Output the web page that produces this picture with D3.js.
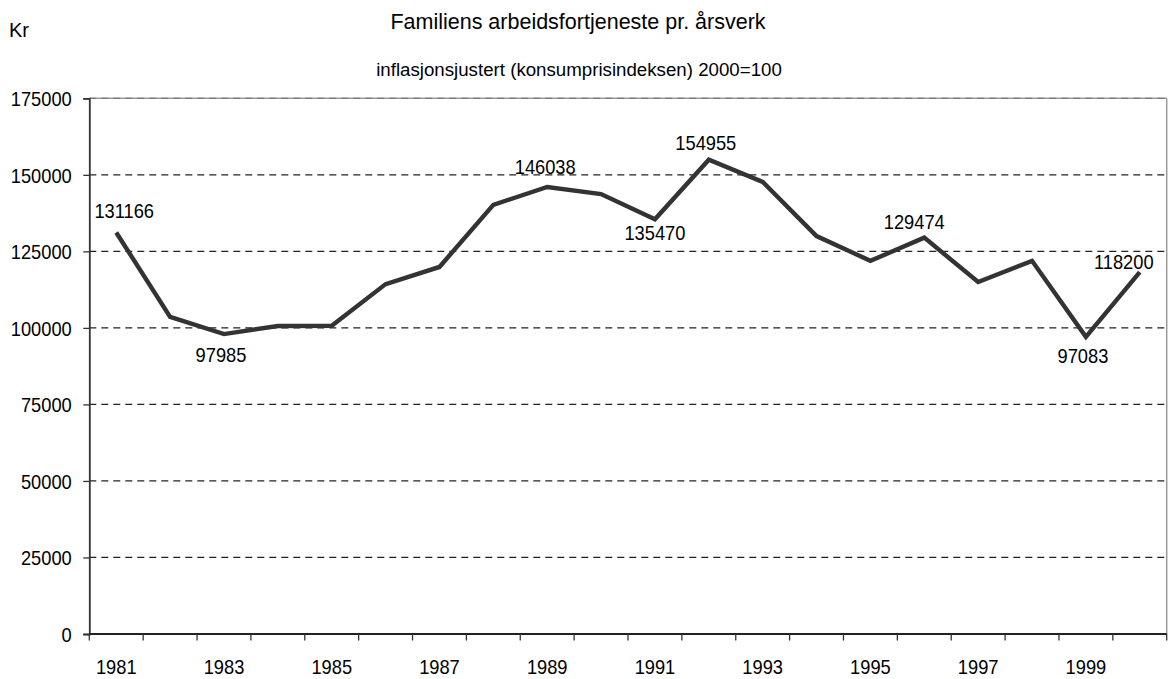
<!DOCTYPE html>
<html>
<head>
<meta charset="utf-8">
<script src="https://cdn.jsdelivr.net/npm/d3@7"></script>
<style>
  html, body { margin: 0; padding: 0; background: #fff; }
  svg { display: block; font-family: "Liberation Sans", Arial, sans-serif; }
</style>
</head>
<body>
<svg id="chart" width="1170" height="679"></svg>
<script>
const years = ["1981","1982","1983","1984","1985","1986","1987","1988","1989","1990",
               "1991","1992","1993","1994","1995","1996","1997","1998","1999","2000"];
const earnings = [131166, 103600, 97985, 100600, 100700, 114300, 119900, 140200, 146038, 143700,
                  135470, 154955, 147700, 130000, 121900, 129474, 115000, 121900, 97083, 118200];
const yTicks = [0, 25000, 50000, 75000, 100000, 125000, 150000, 175000];
const xTickLabels = ["1981","1983","1985","1987","1989","1991","1993","1995","1997","1999"];
// labelled points: year, horizontal nudge, vertical lift
const labelYears = ["1981","1983","1989","1991","1992","1996","1999","2000"];
const labelNudge = [8, -3, -2, 0, -3, -10, -3, -16];
const labelLift  = [14, -28, 13, -21, 10, 9, -26, 3];

const title = "Familiens arbeidsfortjeneste pr. årsverk";
const subtitle = "inflasjonsjustert (konsumprisindeksen) 2000=100";
const unitLabel = "Kr";

const svg = d3.select("#chart");
const pLeft = 89.3, pRight = 1166.7, pTop = 98.3, pBottom = 634;

const x = d3.scaleBand().domain(years).range([pLeft, pRight]).padding(0);
const y = d3.scaleLinear().domain([0, 175000]).range([pBottom, pTop]);
const cx = d => x(d) + x.bandwidth() / 2;

const numScale = 0.87;
const numSize = 21;

// Titles
svg.append("text").attr("x", 578).attr("y", 28.5).attr("text-anchor", "middle")
  .attr("font-size", 21.5).attr("fill", "#000").text(title);
svg.append("text").attr("x", 579).attr("y", 76).attr("text-anchor", "middle")
  .attr("font-size", 18.7).attr("fill", "#000").text(subtitle);
svg.append("text").attr("x", 9).attr("y", 36.5)
  .attr("font-size", 20).attr("fill", "#000").text(unitLabel);

// Plot border (top & right), gray
svg.append("line").attr("x1", pLeft).attr("x2", pRight).attr("y1", pTop).attr("y2", pTop)
  .attr("stroke", "#9a9a9a").attr("stroke-width", 1.5);
svg.append("line").attr("x1", pRight).attr("x2", pRight).attr("y1", pTop).attr("y2", pBottom)
  .attr("stroke", "#9a9a9a").attr("stroke-width", 1.5);

// Gridlines
svg.append("g").selectAll("line").data(yTicks.filter(d => d > 0)).join("line")
  .attr("x1", pLeft).attr("x2", pRight)
  .attr("y1", d => y(d)).attr("y2", d => y(d))
  .attr("stroke", d => d === 175000 ? "#777" : "#222")
  .attr("stroke-width", 1.2)
  .attr("stroke-dasharray", "7,5");

// Y axis
const yAxis = d3.axisLeft(y).tickValues(yTicks).tickSize(6).tickFormat(d3.format("d")).tickPadding(0);
const gy = svg.append("g").attr("transform", `translate(${pLeft},0)`).call(yAxis);
gy.select(".domain").attr("stroke", "#333").attr("stroke-width", 1.8);
gy.selectAll(".tick line").attr("stroke", "#333").attr("stroke-width", 1.3);
gy.selectAll(".tick text").remove();
gy.selectAll(".tick").append("text")
  .attr("text-anchor", "end")
  .attr("transform", `translate(-17.6,7.5) scale(${numScale},1)`)
  .attr("font-size", numSize).attr("fill", "#000").attr("font-family", "Liberation Sans, Arial, sans-serif")
  .text(d => d);

// X axis: ticks at band boundaries
const boundaries = years.map(d => x(d)).concat([pRight]);
const gx = svg.append("g");
gx.append("line").attr("x1", pLeft).attr("x2", pRight).attr("y1", pBottom).attr("y2", pBottom)
  .attr("stroke", "#222").attr("stroke-width", 1.8);
gx.selectAll("line.tk").data(boundaries).join("line").attr("class", "tk")
  .attr("x1", d => d).attr("x2", d => d).attr("y1", pBottom).attr("y2", pBottom + 6.5)
  .attr("stroke", "#333").attr("stroke-width", 1.3);
gx.selectAll("text").data(xTickLabels).join("text")
  .attr("transform", d => `translate(${cx(d)},673.5) scale(${numScale},1)`)
  .attr("text-anchor", "middle")
  .attr("font-size", numSize).attr("fill", "#000").text(d => d);

// Line
const line = d3.line().x((d, i) => cx(years[i])).y(d => y(d));
svg.append("path").datum(earnings)
  .attr("d", line)
  .attr("fill", "none").attr("stroke", "#333").attr("stroke-width", 4.4)
  .attr("stroke-linejoin", "miter").attr("stroke-linecap", "butt");

// Data labels
svg.append("g").selectAll("text").data(labelYears).join("text")
  .attr("transform", (d, i) => {
    const v = earnings[years.indexOf(d)];
    return `translate(${cx(d) + labelNudge[i]},${y(v) - labelLift[i]}) scale(${numScale},1)`;
  })
  .attr("text-anchor", "middle")
  .attr("font-size", numSize).attr("fill", "#000")
  .text(d => earnings[years.indexOf(d)]);
</script>
</body>
</html>
